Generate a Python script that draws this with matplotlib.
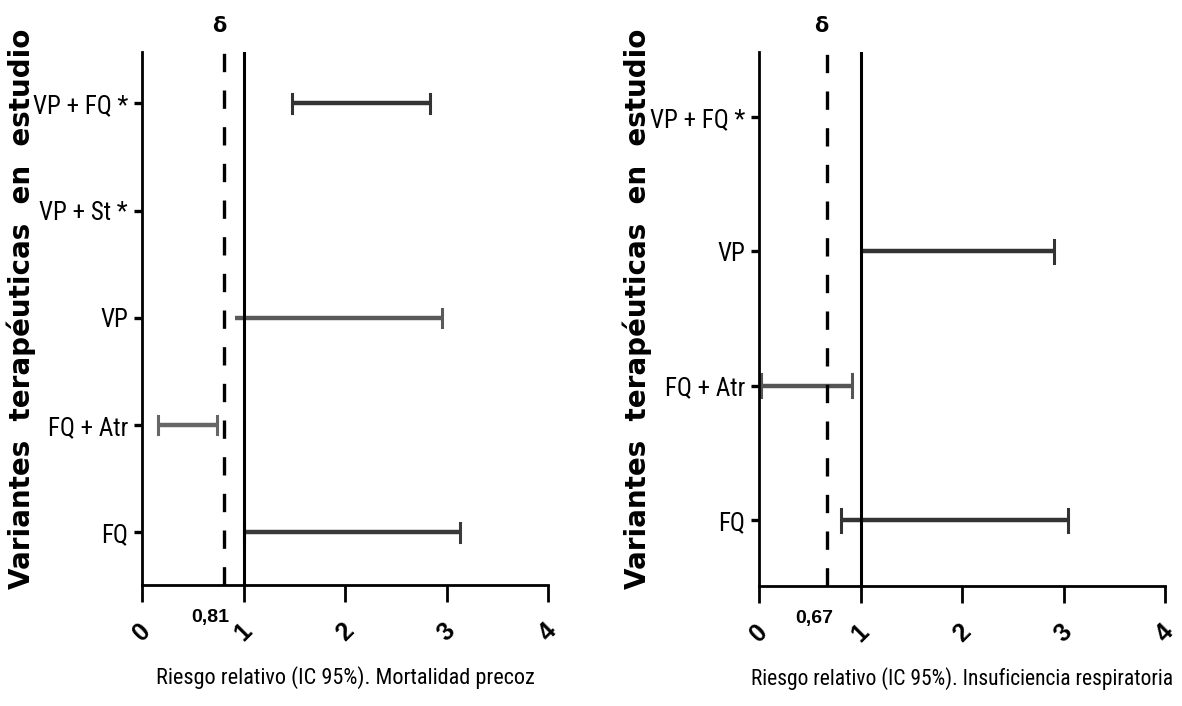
import matplotlib
matplotlib.use("Agg")
import matplotlib.pyplot as plt
from matplotlib import font_manager
from matplotlib.font_manager import FontProperties

# ---------------- data ----------------
cats_left = ["FQ", "FQ + Atr", "VP", "VP + St *", "VP + FQ *"]
low_left = [1.00, 0.16, 0.92, None, 1.48]
high_left = [3.13, 0.74, 2.96, None, 2.84]
colors_left = ["#3a3a3a", "#666666", "#5a5a5a", None, "#333333"]
caps_left = [(True, True), (True, True), (False, True), None, (True, True)]

cats_right = ["FQ", "FQ + Atr", "VP", "VP + FQ *"]
low_right = [0.81, 0.02, 1.00, None]
high_right = [3.04, 0.92, 2.91, None]
colors_right = ["#333333", "#555555", "#333333", None]
caps_right = [(True, True), (True, True), (False, True), None]

delta_left = 0.81
delta_right = 0.67
delta_labels = ["0,81", "0,67"]
null_value = 1.0
xticks = [0, 1, 2, 3, 4]
xlabel_left = "Riesgo relativo (IC 95%). Mortalidad precoz"
xlabel_right = "Riesgo relativo (IC 95%). Insuficiencia respiratoria"
ylabel = "Variantes  terapéuticas  en  estudio"


def find_condensed():
    bad = ("bold", "light", "thin", "italic", "black", "medium", "semi", "extra",
           "oblique", "heavy", "ultra", "demi")
    files = []
    for f in font_manager.fontManager.ttflist:
        fn = f.fname.lower().split("/")[-1]
        if ("condensed" in fn or "narrow" in fn) and not any(b in fn for b in bad):
            files.append(f)
    prefs = ["Liberation Sans Narrow", "Roboto Condensed", "Roboto", "Open Sans",
             "Noto Sans", "DejaVu Sans", "Lato", "Inter"]
    for p in prefs:
        for f in files:
            if f.name.startswith(p):
                return f.fname
    if files:
        return files[0].fname
    return None


cond_file = find_condensed()


def narrow_fp(size):
    if cond_file:
        return FontProperties(fname=cond_file, size=size)
    return FontProperties(family="Liberation Sans", size=size * 0.85)


DPI = 100
fig = plt.figure(figsize=(11.82, 7.06), dpi=DPI)


def draw_panel(ax, cats, lows, highs, cols, caps, delta, dlabel, xlabel, xl_size,
               ylim, dl_ha, dl_dx, d_dx):
    ax.set_xlim(0, 4)
    ax.set_ylim(*ylim)
    for s in ["top", "right"]:
        ax.spines[s].set_visible(False)
    for s in ["left", "bottom"]:
        ax.spines[s].set_linewidth(2.0)
        ax.spines[s].set_color("black")
    ax.axvline(null_value, color="black", lw=2.2, zorder=3)
    ax.axvline(delta, color="black", lw=2.4, linestyle=(0, (5.5, 5.5)), zorder=3)
    for i, (lo, hi, c, cp) in enumerate(zip(lows, highs, cols, caps)):
        if lo is None:
            continue
        ax.plot([lo, hi], [i, i], color=c, lw=3.2, solid_capstyle="butt", zorder=2)
        capw = 0.085
        if cp[0]:
            ax.plot([lo, lo], [i - capw, i + capw], color=c, lw=2.2, zorder=2)
        if cp[1]:
            ax.plot([hi, hi], [i - capw, i + capw], color=c, lw=2.2, zorder=2)
    ax.set_yticks(range(len(cats)))
    ax.set_yticklabels(cats)
    for lbl in ax.get_yticklabels():
        lbl.set_fontproperties(narrow_fp(18))
    ax.tick_params(axis="y", length=6, width=2.4, pad=4, colors="black")
    ax.set_xticks(xticks)
    ax.set_xticklabels([str(t) for t in xticks], rotation=45, fontsize=18,
                       fontweight="bold", fontfamily="Liberation Sans")
    ax.tick_params(axis="x", length=12, width=2.0, pad=22)
    for lbl in ax.get_xticklabels():
        lbl.set_ha("center")
        lbl.set_va("center")
    ax.set_xlabel(xlabel, fontproperties=narrow_fp(xl_size), labelpad=15)
    ax.text(delta + d_dx, 1.03, "δ", transform=ax.get_xaxis_transform(), ha="center",
            va="bottom", fontsize=15, fontweight="bold", fontfamily="DejaVu Sans")
    ax.text(delta + dl_dx, -0.045, dlabel, transform=ax.get_xaxis_transform(), ha=dl_ha,
            va="top", fontsize=14, fontweight="bold", fontfamily="Liberation Sans")


axL = fig.add_axes([142 / 1182, 121 / 706, 406 / 1182, 533 / 706])
draw_panel(axL, cats_left, low_left, high_left, colors_left, caps_left, delta_left,
           delta_labels[0], xlabel_left, 16, (-0.49, 4.48), "right", 0.05, -0.05)
axR = fig.add_axes([759 / 1182, 120 / 706, 406 / 1182, 534 / 706])
draw_panel(axR, cats_right, low_right, high_right, colors_right, caps_right, delta_right,
           delta_labels[1], xlabel_right, 15.5, (-0.49, 3.485), "center", -0.13, -0.06)

for xp in (21, 637):
    fig.text(xp / 1182, 0.562, ylabel, rotation=90, ha="center", va="center",
             fontsize=20, fontweight="bold", fontfamily="DejaVu Sans")

fig.savefig("out.png", dpi=DPI, facecolor="white")
